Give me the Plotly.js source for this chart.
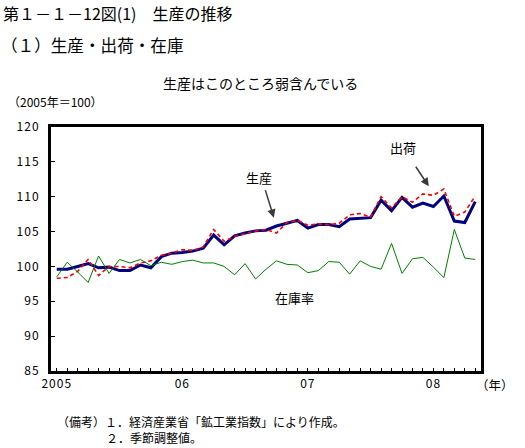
<!DOCTYPE html>
<html>
<head>
<meta charset="utf-8">
<script src="https://cdn.plot.ly/plotly-3.0.1.min.js"></script>
<style>
html,body{margin:0;padding:0;background:#fff;}
#chart{width:525px;height:448px;}
.ytick text, .xtick text{letter-spacing:1px;}
</style>
</head>
<body>
<div id="chart"></div>
<script>
// Months: Jan 2005 .. May 2008 (index 0..40)
const monthIndex = [0,1,2,3,4,5,6,7,8,9,10,11,12,13,14,15,16,17,18,19,20,21,22,23,24,25,26,27,28,29,30,31,32,33,34,35,36,37,38,39,40];
const production = [99.6,99.6,100.0,100.4,99.8,99.9,99.4,99.4,100.2,99.8,101.4,101.9,102.0,102.2,102.6,104.5,103.1,104.4,104.8,105.1,105.2,105.8,106.2,106.6,105.5,106.0,106.0,105.7,106.8,106.9,107.0,109.5,108.0,109.9,108.5,109.1,108.6,110.1,106.5,106.3,109.3];
const shipments  = [98.3,98.4,99.3,101.0,98.7,100.0,100.0,99.8,100.5,100.8,101.6,101.9,102.4,102.3,102.8,105.3,103.6,104.3,104.7,105.1,105.3,104.8,106.3,106.6,105.9,106.1,106.0,106.2,107.4,107.6,107.1,110.0,108.4,110.0,109.2,110.4,110.2,111.1,107.2,107.8,110.1];
const inventoryRatio = [98.5,100.6,99.2,97.7,101.5,99.0,101.0,100.5,101.0,100.1,100.6,100.3,100.7,100.9,100.5,100.5,100.0,98.8,100.4,98.2,99.6,100.8,100.3,100.2,99.1,99.4,100.7,100.6,98.9,100.8,100.0,99.6,103.3,99.0,101.1,101.3,99.9,98.4,105.3,101.2,101.0];
const yearTickPos = [0,12,24,36];
const yearLabels = ['2005','06','07','08'];
const yTickVals = [85,90,95,100,105,110,115,120];

const FONT = '"Noto Sans CJK JP", "Noto Sans", sans-serif';
// plot area in pixels: x 51..481, y 127..371
const L = 51, R = 481, T = 127, B = 371;
const px = x => (x - L) / (R - L);
const py = y => (B - y) / (B - T);

const traces = [
  {x: monthIndex, y: production, type: 'scatter', mode: 'lines',
   line: {color: '#000080', width: 3}, name: '生産'},
  {x: monthIndex, y: shipments, type: 'scatter', mode: 'lines',
   line: {color: '#ff0000', width: 1.6, dash: '4px,3px'}, name: '出荷'},
  {x: monthIndex, y: inventoryRatio, type: 'scatter', mode: 'lines',
   line: {color: '#008000', width: 1}, name: '在庫率'}
];

function txt(text, x, y, size, anchor) {
  return {text: text, xref: 'paper', yref: 'paper', x: px(x), y: py(y),
          xanchor: anchor || 'left', yanchor: 'middle', showarrow: false,
          borderpad: 0,
          font: {family: FONT, size: size, color: '#000'}};
}
function arrow(x, y, ax, ay) {
  return {text: '', x: x, y: y, xref: 'x', yref: 'y', showarrow: true,
          ax: ax, ay: ay, standoff: 0, startstandoff: 0, arrowhead: 2,
          arrowsize: 1.1, arrowwidth: 1.5, arrowcolor: '#3a3a3a'};
}

const annotations = [
  txt('第１－１－12図(1)　生産の推移', 2, 13, 16),
  txt('（１）生産・出荷・在庫', 0, 45, 16.6),
  txt('生産はこのところ弱含んでいる', 260, 83, 14, 'center'),
  txt('（2005年＝100）', 7, 101, 12),
  txt('（年）', 475, 384, 12.5),
  txt('（備考）１．経済産業省「鉱工業指数」により作成。', 56, 421, 12),
  txt('２．季節調整値。', 105, 437, 12),
  txt('生産', 259, 177, 13, 'center'),
  txt('出荷', 403, 147, 13, 'center'),
  txt('在庫率', 294, 297, 13, 'center'),
  arrow(20.75, 107.0, -9, -29),
  arrow(35.56, 111.5, -14, -21)
];

const layout = {
  width: 525, height: 448,
  margin: {l: L, r: 525 - R, t: T, b: 448 - B, pad: 0},
  paper_bgcolor: '#fff', plot_bgcolor: '#fff',
  showlegend: false,
  font: {family: FONT, size: 12, color: '#000'},
  xaxis: {
    range: [-0.55, 40.55], tickmode: 'array', tickvals: yearTickPos, ticktext: yearLabels,
    ticks: 'inside', ticklen: 3, tickwidth: 1, tickcolor: '#000',
    minor: {ticks: 'inside', dtick: 1, tick0: 0, ticklen: 3, tickwidth: 1, tickcolor: '#000', showgrid: false},
    showline: true, linecolor: '#000', linewidth: 3, mirror: true,
    showgrid: false, zeroline: false,
    tickfont: {family: FONT, size: 12, color: '#000'}
  },
  yaxis: {
    range: [85, 120], tickmode: 'array', tickvals: yTickVals,
    ticks: 'inside', ticklen: 4, tickwidth: 1, tickcolor: '#000',
    showline: true, linecolor: '#000', linewidth: 3, mirror: true,
    showgrid: false, zeroline: false, ticklabelstandoff: 6,
    tickfont: {family: FONT, size: 12, color: '#000'}
  },
  annotations: annotations
};

Plotly.newPlot('chart', traces, layout, {staticPlot: true, displayModeBar: false});
</script>
</body>
</html>
